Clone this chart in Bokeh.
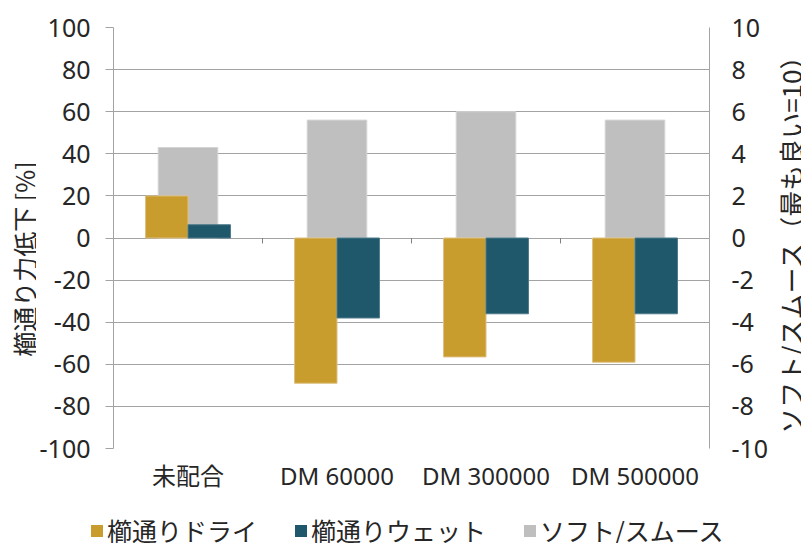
import math
from bokeh.plotting import figure
from bokeh.layouts import row
from bokeh.models import (ColumnDataSource, Range1d, LinearAxis, FixedTicker,
                          Legend, LegendItem, FactorRange, PrintfTickFormatter, Label)
from bokeh.transform import dodge
from bokeh.embed import file_html
from bokeh.resources import INLINE

categories = ["未配合", "DM 60000", "DM 300000", "DM 500000"]
dry = [20, -69, -56.5, -59]          # 櫛通りドライ  (%)
wet = [6.3, -38, -36, -36]           # 櫛通りウェット (%)
soft = [4.3, 5.6, 6.0, 5.6]          # ソフト/スムース (right axis)
left_ticks = list(range(-100, 101, 20))
right_ticks = list(range(-10, 11, 2))
series_names = ["櫛通りドライ", "櫛通りウェット", "ソフト/スムース"]
left_title = "櫛通り力低下 [%]"
right_title = "ソフト/スムース（最も良い=10）"

GOLD = "#C99C2E"
TEAL = "#1F586B"
GREY = "#BFBFBF"
TEXT = "#262626"
LINE = "#A3A3A3"
FONT = "Noto Sans, Noto Sans CJK JP"
FONT_JP = "Noto Sans CJK JP"

TOP, BOTTOM = 27, 52

src = ColumnDataSource(dict(cat=categories, dry=dry, wet=wet, soft=soft))

p = figure(x_range=FactorRange(*categories), y_range=Range1d(-100, 100),
           frame_width=596, frame_height=421, output_backend="svg",
           toolbar_location=None,
           min_border_left=76, min_border_right=60, min_border_top=TOP,
           min_border_bottom=BOTTOM)
p.extra_y_ranges = {"right": Range1d(-10, 10)}

p.vbar(x="cat", top="soft", bottom=0, width=0.4, source=src,
       y_range_name="right", fill_color=GREY, line_color="#D4D4D4", line_width=1)
p.vbar(x=dodge("cat", -0.1425, range=p.x_range), top="dry", bottom=0,
       width=0.285, source=src, fill_color=GOLD, line_color="#DDBF80", line_width=1)
p.vbar(x=dodge("cat", 0.1425, range=p.x_range), top="wet", bottom=0,
       width=0.285, source=src, fill_color=TEAL, line_color="#4F7A8A", line_width=1)

# small category-boundary ticks on the zero line
bounds = list(range(1, len(categories)))
p.segment(x0=bounds, x1=bounds, y0=[0] * len(bounds), y1=[-2.6] * len(bounds),
          line_color="#808080", line_width=1)

p.outline_line_color = None
p.xgrid.grid_line_color = None
p.ygrid.grid_line_color = LINE
p.ygrid.ticker = FixedTicker(ticks=left_ticks)

# left axis
ya = p.yaxis[0]
ya.ticker = FixedTicker(ticks=left_ticks)
ya.formatter = PrintfTickFormatter(format="%d")
ya.axis_line_color = LINE
ya.major_tick_line_color = LINE
ya.major_tick_out = 8
ya.major_tick_in = 0
ya.minor_tick_line_color = None
ya.major_label_standoff = 15
ya.major_label_text_font = FONT
ya.major_label_text_font_size = "25px"
ya.major_label_text_color = TEXT

# right axis
ra = LinearAxis(y_range_name="right", ticker=FixedTicker(ticks=right_ticks))
ra.formatter = PrintfTickFormatter(format="%d")
ra.axis_line_color = LINE
ra.major_tick_line_color = None
ra.major_tick_out = 0
ra.major_tick_in = 0
ra.minor_tick_line_color = None
ra.major_label_standoff = 22
ra.major_label_text_font = FONT
ra.major_label_text_font_size = "25px"
ra.major_label_text_color = TEXT
p.add_layout(ra, "right")

# x axis
xa = p.xaxis[0]
xa.axis_line_color = None
xa.major_tick_line_color = None
xa.major_tick_out = 0
xa.major_tick_in = 0
xa.minor_tick_line_color = None
xa.major_label_standoff = 10
xa.major_label_text_font = FONT
xa.major_label_text_font_size = "24px"
xa.major_label_text_color = TEXT


def title_strip(width, text, x_frac, y_val, size):
    f = figure(width=width, height=TOP + 421 + BOTTOM, output_backend="svg",
               toolbar_location=None, x_axis_type=None, y_axis_type=None,
               x_range=Range1d(0, 1), y_range=Range1d(-100, 100),
               min_border_left=0, min_border_right=0,
               min_border_top=TOP, min_border_bottom=BOTTOM)
    f.outline_line_color = None
    f.add_layout(Label(x=x_frac, y=y_val, angle=math.pi / 2, text=text,
                       text_align="center", text_baseline="middle",
                       text_font=FONT_JP, text_font_size=size, text_color=TEXT))
    return f


lfig = title_strip(36, left_title, 0.64, -10, "25px")
rfig = title_strip(32, right_title, 0.6, 0, "26px")

# legend strip below the chart
leg = figure(width=800, height=43, output_backend="svg", toolbar_location=None,
             x_axis_type=None, y_axis_type=None, x_range=Range1d(0, 1),
             y_range=Range1d(0, 1), min_border=0)
leg.outline_line_color = None
idx = list(range(len(categories)))
rs = [leg.vbar(x=idx, top=vals, width=0.5, fill_color=c, line_color=None, visible=False)
      for vals, c in zip((dry, wet, soft), (GOLD, TEAL, GREY))]
legend = Legend(items=[LegendItem(label=n, renderers=[r]) for n, r in zip(series_names, rs)],
                orientation="horizontal", location=(89, -5),
                glyph_width=15, glyph_height=15, label_standoff=3, spacing=36,
                padding=0, margin=0, border_line_color=None,
                background_fill_alpha=0,
                label_text_font=FONT_JP, label_text_font_size="25px",
                label_text_color=TEXT)
leg.add_layout(legend, "center")

open("out.html", "w").write(file_html([row(lfig, p, rfig), leg], INLINE))
